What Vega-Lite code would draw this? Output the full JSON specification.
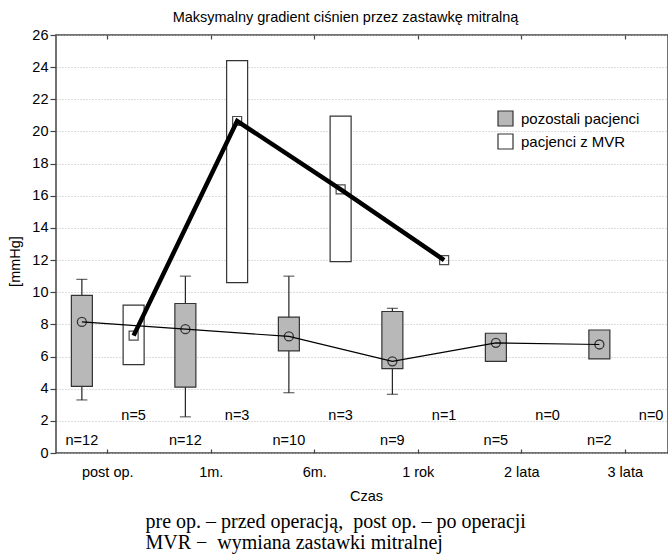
{
  "$schema": "https://vega.github.io/schema/vega-lite/v6.json",
  "width": 612,
  "height": 418,
  "autosize": {"type": "none"},
  "padding": {"left": 56, "top": 35, "right": 0, "bottom": 107},
  "background": "white",
  "config": {
    "font": "Liberation Sans",
    "view": {"stroke": "#444444", "strokeWidth": 1.5},
    "axis": {
      "labelFont": "Liberation Sans",
      "titleFont": "Liberation Sans",
      "labelColor": "black",
      "titleColor": "black",
      "titleFontWeight": "normal",
      "labelFontSize": 14.5,
      "titleFontSize": 14.5,
      "domain": false
    },
    "legend": {
      "labelFont": "Liberation Sans",
      "labelFontSize": 15,
      "labelColor": "black"
    }
  },
  "data": {
    "values": [
      {"czas": "post op.", "grupa": "pozostali pacjenci", "srednia": 8.15, "dolBox": 4.15, "gorBox": 9.8, "dolWasy": 3.3, "gorWasy": 10.8, "n": 12},
      {"czas": "1m.", "grupa": "pozostali pacjenci", "srednia": 7.7, "dolBox": 4.1, "gorBox": 9.3, "dolWasy": 2.25, "gorWasy": 11.0, "n": 12},
      {"czas": "6m.", "grupa": "pozostali pacjenci", "srednia": 7.25, "dolBox": 6.35, "gorBox": 8.45, "dolWasy": 3.75, "gorWasy": 11.0, "n": 10},
      {"czas": "1 rok", "grupa": "pozostali pacjenci", "srednia": 5.7, "dolBox": 5.25, "gorBox": 8.8, "dolWasy": 3.65, "gorWasy": 9.0, "n": 9},
      {"czas": "2 lata", "grupa": "pozostali pacjenci", "srednia": 6.85, "dolBox": 5.7, "gorBox": 7.45, "dolWasy": null, "gorWasy": null, "n": 5},
      {"czas": "3 lata", "grupa": "pozostali pacjenci", "srednia": 6.75, "dolBox": 5.85, "gorBox": 7.65, "dolWasy": null, "gorWasy": null, "n": 2},
      {"czas": "post op.", "grupa": "pacjenci z MVR", "srednia": 7.3, "dolBox": 5.5, "gorBox": 9.2, "dolWasy": null, "gorWasy": null, "n": 5},
      {"czas": "1m.", "grupa": "pacjenci z MVR", "srednia": 20.65, "dolBox": 10.6, "gorBox": 24.4, "dolWasy": null, "gorWasy": null, "n": 3},
      {"czas": "6m.", "grupa": "pacjenci z MVR", "srednia": 16.4, "dolBox": 11.9, "gorBox": 20.95, "dolWasy": null, "gorWasy": null, "n": 3},
      {"czas": "1 rok", "grupa": "pacjenci z MVR", "srednia": 12.0, "dolBox": null, "gorBox": null, "dolWasy": null, "gorWasy": null, "n": 1},
      {"czas": "2 lata", "grupa": "pacjenci z MVR", "srednia": null, "dolBox": null, "gorBox": null, "dolWasy": null, "gorWasy": null, "n": 0},
      {"czas": "3 lata", "grupa": "pacjenci z MVR", "srednia": null, "dolBox": null, "gorBox": null, "dolWasy": null, "gorWasy": null, "n": 0}
    ]
  },
  "resolve": {"axis": {"x": "independent"}},
  "encoding": {
    "x": {
      "field": "czas", "type": "nominal",
      "scale": {"domain": ["post op.", "1m.", "6m.", "1 rok", "2 lata", "3 lata"], "range": [0, 621], "paddingInner": 0, "paddingOuter": 0},
      "axis": null
    },
    "xOffset": {
      "field": "grupa", "type": "nominal",
      "scale": {"domain": ["pozostali pacjenci", "pacjenci z MVR"], "paddingInner": 0, "paddingOuter": 0}
    }
  },
  "layer": [
    {
      "transform": [{"filter": "isValid(datum.dolWasy)"}],
      "mark": {"type": "rule", "color": "#222222", "strokeWidth": 1.2},
      "encoding": {
        "x": {
          "field": "czas", "type": "nominal",
          "scale": {"domain": ["post op.", "1m.", "6m.", "1 rok", "2 lata", "3 lata"], "range": [0, 621], "paddingInner": 0, "paddingOuter": 0},
          "axis": {
            "orient": "bottom", "domain": false, "grid": false,
            "ticks": true, "tickSize": -4, "tickColor": "#444444", "tickWidth": 1.2,
            "labelPadding": 16, "labelAngle": 0, "labelOverlap": false,
            "title": "Czas", "titleX": 310, "titleY": 47, "titleAlign": "center", "titleBaseline": "alphabetic"
          }
        },
        "y": {
          "field": "dolWasy", "type": "quantitative", "title": "[mmHg]",
          "scale": {"domain": [0, 26], "nice": false},
          "axis": {"values": [0, 2, 4, 6, 8, 10, 12, 14, 16, 18, 20, 22, 24, 26], "tickCount": 30, "labelOverlap": false, "grid": true, "gridColor": "#bbbbbb", "gridDash": [1, 2], "gridWidth": 1, "tickSize": 6, "tickColor": "#444444", "tickWidth": 1.2, "labelPadding": 2, "titleX": -41, "titleY": 226, "titleAngle": -90, "titleAlign": "center", "titleBaseline": "middle"}
        },
        "y2": {"field": "gorWasy"}
      }
    },
    {
      "transform": [{"filter": "isValid(datum.dolWasy)"}],
      "mark": {"type": "tick", "orient": "horizontal", "size": 11, "thickness": 1.2, "color": "#222222"},
      "encoding": {
        "y": {
          "field": "dolWasy", "type": "quantitative", "title": "[mmHg]", "scale": {"domain": [0, 26], "nice": false},
          "axis": {"values": [0, 2, 4, 6, 8, 10, 12, 14, 16, 18, 20, 22, 24, 26], "tickCount": 30, "labelOverlap": false, "grid": true, "gridColor": "#bbbbbb", "gridDash": [1, 2], "gridWidth": 1, "tickSize": 6, "tickColor": "#444444", "tickWidth": 1.2, "labelPadding": 2, "titleX": -41, "titleY": 226, "titleAngle": -90, "titleAlign": "center", "titleBaseline": "middle"}
        }
      }
    },
    {
      "transform": [{"filter": "isValid(datum.gorWasy)"}],
      "mark": {"type": "tick", "orient": "horizontal", "size": 11, "thickness": 1.2, "color": "#222222"},
      "encoding": {
        "y": {
          "field": "gorWasy", "type": "quantitative", "title": "[mmHg]", "scale": {"domain": [0, 26], "nice": false},
          "axis": {"values": [0, 2, 4, 6, 8, 10, 12, 14, 16, 18, 20, 22, 24, 26], "tickCount": 30, "labelOverlap": false, "grid": true, "gridColor": "#bbbbbb", "gridDash": [1, 2], "gridWidth": 1, "tickSize": 6, "tickColor": "#444444", "tickWidth": 1.2, "labelPadding": 2, "titleX": -41, "titleY": 226, "titleAngle": -90, "titleAlign": "center", "titleBaseline": "middle"}
        }
      }
    },
    {
      "transform": [{"filter": "isValid(datum.dolBox)"}],
      "mark": {"type": "bar", "width": 21, "stroke": "#333333", "strokeWidth": 1.2},
      "encoding": {
        "y": {
          "field": "dolBox", "type": "quantitative", "title": "[mmHg]", "scale": {"domain": [0, 26], "nice": false},
          "axis": {"values": [0, 2, 4, 6, 8, 10, 12, 14, 16, 18, 20, 22, 24, 26], "tickCount": 30, "labelOverlap": false, "grid": true, "gridColor": "#bbbbbb", "gridDash": [1, 2], "gridWidth": 1, "tickSize": 6, "tickColor": "#444444", "tickWidth": 1.2, "labelPadding": 2, "titleX": -41, "titleY": 226, "titleAngle": -90, "titleAlign": "center", "titleBaseline": "middle"}
        },
        "y2": {"field": "gorBox"},
        "fill": {
          "field": "grupa", "type": "nominal",
          "scale": {"domain": ["pozostali pacjenci", "pacjenci z MVR"], "range": ["#b8b8b8", "#ffffff"]},
          "legend": {
            "title": null, "orient": "none", "legendX": 441, "legendY": 75,
            "symbolType": "square", "symbolSize": 225,
            "symbolStrokeColor": "#333333", "symbolStrokeWidth": 1.2,
            "rowPadding": 2, "labelOffset": 7, "padding": 0
          }
        }
      }
    },
    {
      "transform": [{"filter": "datum.grupa === 'pozostali pacjenci' && isValid(datum.srednia)"}],
      "mark": {"type": "line", "color": "black", "strokeWidth": 1.2},
      "encoding": {
        "y": {
          "field": "srednia", "type": "quantitative", "title": "[mmHg]", "scale": {"domain": [0, 26], "nice": false},
          "axis": {"values": [0, 2, 4, 6, 8, 10, 12, 14, 16, 18, 20, 22, 24, 26], "tickCount": 30, "labelOverlap": false, "grid": true, "gridColor": "#bbbbbb", "gridDash": [1, 2], "gridWidth": 1, "tickSize": 6, "tickColor": "#444444", "tickWidth": 1.2, "labelPadding": 2, "titleX": -41, "titleY": 226, "titleAngle": -90, "titleAlign": "center", "titleBaseline": "middle"}
        },
        "order": {"value": null}
      }
    },
    {
      "transform": [{"filter": "datum.grupa === 'pozostali pacjenci' && isValid(datum.srednia)"}],
      "mark": {"type": "point", "shape": "circle", "size": 81, "filled": false, "stroke": "black", "strokeWidth": 1.3},
      "encoding": {
        "y": {
          "field": "srednia", "type": "quantitative", "title": "[mmHg]", "scale": {"domain": [0, 26], "nice": false},
          "axis": {"values": [0, 2, 4, 6, 8, 10, 12, 14, 16, 18, 20, 22, 24, 26], "tickCount": 30, "labelOverlap": false, "grid": true, "gridColor": "#bbbbbb", "gridDash": [1, 2], "gridWidth": 1, "tickSize": 6, "tickColor": "#444444", "tickWidth": 1.2, "labelPadding": 2, "titleX": -41, "titleY": 226, "titleAngle": -90, "titleAlign": "center", "titleBaseline": "middle"}
        }
      }
    },
    {
      "transform": [{"filter": "datum.grupa === 'pacjenci z MVR' && isValid(datum.srednia)"}],
      "mark": {"type": "point", "shape": "square", "size": 81, "filled": false, "stroke": "black", "strokeWidth": 1.2},
      "encoding": {
        "y": {
          "field": "srednia", "type": "quantitative", "title": "[mmHg]", "scale": {"domain": [0, 26], "nice": false},
          "axis": {"values": [0, 2, 4, 6, 8, 10, 12, 14, 16, 18, 20, 22, 24, 26], "tickCount": 30, "labelOverlap": false, "grid": true, "gridColor": "#bbbbbb", "gridDash": [1, 2], "gridWidth": 1, "tickSize": 6, "tickColor": "#444444", "tickWidth": 1.2, "labelPadding": 2, "titleX": -41, "titleY": 226, "titleAngle": -90, "titleAlign": "center", "titleBaseline": "middle"}
        }
      }
    },
    {
      "transform": [{"filter": "datum.grupa === 'pacjenci z MVR' && isValid(datum.srednia)"}],
      "mark": {"type": "line", "color": "black", "strokeWidth": 4.5},
      "encoding": {
        "y": {
          "field": "srednia", "type": "quantitative", "title": "[mmHg]", "scale": {"domain": [0, 26], "nice": false},
          "axis": {"values": [0, 2, 4, 6, 8, 10, 12, 14, 16, 18, 20, 22, 24, 26], "tickCount": 30, "labelOverlap": false, "grid": true, "gridColor": "#bbbbbb", "gridDash": [1, 2], "gridWidth": 1, "tickSize": 6, "tickColor": "#444444", "tickWidth": 1.2, "labelPadding": 2, "titleX": -41, "titleY": 226, "titleAngle": -90, "titleAlign": "center", "titleBaseline": "middle"}
        },
        "order": {"value": null}
      }
    },
    {
      "transform": [{"filter": "datum.grupa === 'pacjenci z MVR'"}],
      "mark": {"type": "text", "fontSize": 14.5, "color": "black", "baseline": "middle", "text": {"expr": "'n=' + datum.n"}},
      "encoding": {
        "x": {
          "field": "czas", "type": "nominal",
          "scale": {"domain": ["post op.", "1m.", "6m.", "1 rok", "2 lata", "3 lata"], "range": [0, 621], "paddingInner": 0, "paddingOuter": 0},
          "axis": {
            "orient": "top", "domain": false, "grid": false, "labels": false,
            "ticks": true, "tickSize": -4, "tickColor": "#444444", "tickWidth": 1.2,
            "title": "Maksymalny gradient ciśnien przez zastawkę mitralną",
            "titleX": 289, "titleY": -14, "titleAlign": "center", "titleBaseline": "alphabetic"
          }
        },
        "y": {
          "datum": 2.28, "type": "quantitative", "title": "[mmHg]", "scale": {"domain": [0, 26], "nice": false},
          "axis": {"values": [0, 2, 4, 6, 8, 10, 12, 14, 16, 18, 20, 22, 24, 26], "tickCount": 30, "labelOverlap": false, "grid": true, "gridColor": "#bbbbbb", "gridDash": [1, 2], "gridWidth": 1, "tickSize": 6, "tickColor": "#444444", "tickWidth": 1.2, "labelPadding": 2, "titleX": -41, "titleY": 226, "titleAngle": -90, "titleAlign": "center", "titleBaseline": "middle"}
        }
      }
    },
    {
      "transform": [{"filter": "datum.grupa === 'pozostali pacjenci'"}],
      "mark": {"type": "text", "fontSize": 14.5, "color": "black", "baseline": "middle", "text": {"expr": "'n=' + datum.n"}},
      "encoding": {
        "x": {
          "field": "czas", "type": "nominal",
          "scale": {"domain": ["post op.", "1m.", "6m.", "1 rok", "2 lata", "3 lata"], "range": [0, 621], "paddingInner": 0, "paddingOuter": 0},
          "axis": {
            "orient": "bottom", "domain": false, "grid": false, "labels": false, "ticks": false,
            "title": ["pre op. – przed operacją,\u00a0 post op. – po operacji", "MVR −\u00a0 wymiana zastawki mitralnej"],
            "titleFont": "Liberation Serif", "titleFontSize": 20, "titleLineHeight": 21,
            "titleX": 89, "titleY": 74, "titleAlign": "left", "titleBaseline": "alphabetic"
          }
        },
        "y": {
          "datum": 0.72, "type": "quantitative", "title": "[mmHg]", "scale": {"domain": [0, 26], "nice": false},
          "axis": {"values": [0, 2, 4, 6, 8, 10, 12, 14, 16, 18, 20, 22, 24, 26], "tickCount": 30, "labelOverlap": false, "grid": true, "gridColor": "#bbbbbb", "gridDash": [1, 2], "gridWidth": 1, "tickSize": 6, "tickColor": "#444444", "tickWidth": 1.2, "labelPadding": 2, "titleX": -41, "titleY": 226, "titleAngle": -90, "titleAlign": "center", "titleBaseline": "middle"}
        }
      }
    }
  ]
}
